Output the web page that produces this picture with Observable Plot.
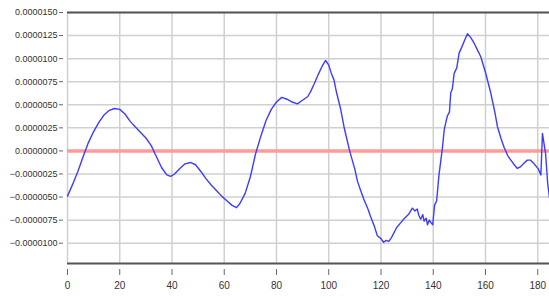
<!DOCTYPE html>
<html>
<head>
<meta charset="utf-8">
<script src="https://cdn.jsdelivr.net/npm/d3@7"></script>
<script src="https://cdn.jsdelivr.net/npm/@observablehq/plot@0.6"></script>
<style>
  html, body { margin: 0; padding: 0; background: #fff; }
  #chart { width: 549px; height: 298px; overflow: hidden; }
</style>
</head>
<body>
<div id="chart"></div>
<script>
// x positions (sample index)
const xs = [0,2,4,6,8,10,12,14,16,18,20,22,24,26,28,30,32,34,36,38,39.5,41,43,45,47,49,51,53,55,57,59,61,63,64.7,66,68,70,72,74,76,78,80,82,84,86,88,89,90.5,92,93,94.5,96,97.5,98.8,100,101,102,103,104.5,106,108,110,111,112.5,113.5,115,116,117.5,118.6,120,121,122,123,124,126,127.5,129,130.5,132,133,133.9,134.5,135.2,136,136.5,137.3,137.8,138.5,139.2,139.8,140.5,141.3,142.2,143.5,144.2,145.4,146.2,146.7,147.3,148,149,149.9,151,152,153.1,154.3,155.6,157,158.2,160,162,163.5,164.6,166,167.1,168.5,169.7,171,172.2,173.5,174.8,176,177.3,178.3,179.2,180.3,181.2,181.8,182.4,183,183.8,184.5];
// values in units of 1e-6
const ysMicro = [-4.9,-3.6,-2.2,-0.6,0.9,2.1,3.1,3.9,4.4,4.6,4.5,4.0,3.2,2.6,2.0,1.4,0.6,-0.6,-1.8,-2.6,-2.75,-2.5,-1.9,-1.4,-1.25,-1.5,-2.2,-3.0,-3.7,-4.3,-4.9,-5.4,-5.9,-6.15,-5.7,-4.6,-2.8,-0.3,1.6,3.3,4.5,5.3,5.8,5.6,5.3,5.1,5.3,5.6,5.9,6.4,7.3,8.3,9.2,9.8,9.3,8.4,7.7,6.3,4.6,2.4,0.0,-2.0,-3.3,-4.5,-5.3,-6.3,-7.1,-8.2,-9.2,-9.5,-9.9,-9.7,-9.8,-9.4,-8.3,-7.8,-7.3,-6.9,-6.2,-6.5,-6.3,-7.0,-7.4,-6.9,-7.6,-7.3,-8.0,-7.5,-7.8,-8.0,-5.9,-5.4,-2.6,0.3,2.3,3.8,4.2,6.3,6.7,8.4,9.0,10.6,11.3,12.0,12.7,12.3,11.7,10.9,10.2,8.5,6.3,4.3,2.6,1.3,0.4,-0.5,-1.0,-1.5,-1.9,-1.7,-1.3,-1.0,-1.0,-1.3,-1.6,-2.0,-2.6,1.9,0.8,-0.3,-3.5,-5.1];
const xTicks = [0,20,40,60,80,100,120,140,160,180];
const yTicks = [-0.00001,-0.0000075,-0.000005,-0.0000025,0,0.0000025,0.000005,0.0000075,0.00001,0.0000125,0.000015];
const xDomain = [0, 184.5];
const yDomain = [-0.0000122, 0.000015];

const data = xs.map((x, i) => ({x, y: ysMicro[i] * 1e-6}));

const chart = Plot.plot({
  width: 549,
  height: 298,
  marginLeft: 67,
  marginRight: 0,
  marginTop: 12,
  marginBottom: 35,
  style: {fontFamily: "Liberation Sans, Arial, sans-serif", fontSize: "9px", color: "#333", background: "#fff"},
  x: {domain: xDomain, label: null},
  y: {domain: yDomain, label: null},
  marks: [
    Plot.gridX(xTicks, {stroke: "#d0d0d0", strokeOpacity: 1, strokeWidth: 1.5}),
    Plot.gridY(yTicks, {stroke: "#d0d0d0", strokeOpacity: 1, strokeWidth: 1.5}),
    Plot.ruleY([0], {stroke: "#ff9a9a", strokeWidth: 3.5}),
    Plot.line(data, {x: "x", y: "y", stroke: "#3d3dff", strokeWidth: 1.4}),
    Plot.ruleY([yDomain[1]], {stroke: "#555", strokeWidth: 2}),
    Plot.ruleY([yDomain[0]], {stroke: "#555", strokeWidth: 2}),
    Plot.axisY(yTicks, {label: null, tickFormat: d3.format(".7f"), tickSize: 4, tickPadding: 2, dx: -4, stroke: "#666", fontSize: 9}),
    Plot.axisX(xTicks, {label: null, tickSize: 6, tickPadding: 6, dy: 6, stroke: "#666", fontSize: 10})
  ]
});
document.getElementById("chart").appendChild(chart);
</script>
</body>
</html>
